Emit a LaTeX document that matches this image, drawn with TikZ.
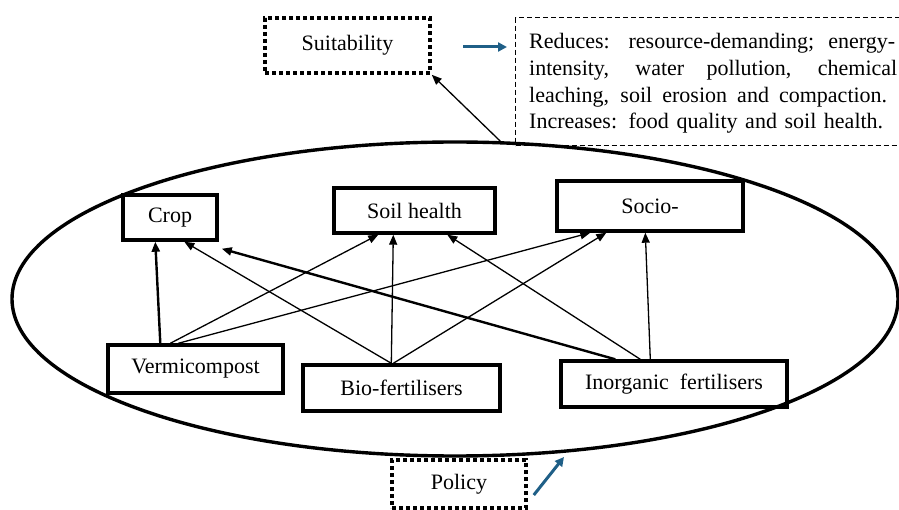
\documentclass[tikz,border=0pt]{standalone}
\usepackage{fontspec}
\setmainfont{Liberation Serif}
\usetikzlibrary{shapes.geometric,arrows.meta}
\definecolor{arrowblue}{RGB}{31,95,135}
\begin{document}
\begin{tikzpicture}[x=1pt,y=-1pt,
  labelfont/.style={font=\fontsize{22}{26}\selectfont},
  box/.style={draw,line width=3.4pt,inner sep=0pt,labelfont},
  dotbox/.style={draw,line width=3.6pt,dash pattern=on 3.6pt off 3.4pt,inner sep=0pt,labelfont},
  conthin/.style={line width=1.3pt,-{Triangle[length=10pt,width=8pt]}},
  conthick/.style={line width=2.4pt,-{Triangle[length=10pt,width=8pt]}},
  bluearrow/.style={arrowblue,line width=3pt,-{Triangle[length=9pt,width=9pt]}},
  txtline/.style={anchor=base west,inner sep=0pt,labelfont}]
\useasboundingbox (0,0) rectangle (899,510);
\clip (0,0) rectangle (899,510);
% ellipse
\node[draw,ellipse,line width=3.4pt,minimum width=886pt,minimum height=314pt,inner sep=0pt] (ell) at (455,299) {};
% boxes
\node[box,minimum width=94pt,minimum height=45pt] (crop) at (170,217.5) {Crop};
\node[box,minimum width=161pt,minimum height=45pt] (soil) at (414.5,210.5) {Soil health};
\node[box,minimum width=186pt,minimum height=50pt] (socio) at (650,206) {Socio-};
\node[box,minimum width=175pt,minimum height=48pt] (verm) at (195.5,369) {Vermicompost};
\node[box,minimum width=197pt,minimum height=46pt] (bio) at (401.5,388) {Bio-fertilisers};
\node[box,minimum width=226pt,minimum height=46pt] (inorg) at (674,384) {Inorganic\ \ fertilisers};
\node[dotbox,minimum width=165pt,minimum height=55pt] (suit) at (347.5,45.5) {Suitability};
\node[dotbox,minimum width=134pt,minimum height=48pt] (policy) at (459,484) {Policy};
% text box
\node[draw,dash pattern=on 5pt off 3pt,line width=1.2pt,minimum width=392pt,minimum height=128pt,anchor=north west,inner sep=0pt] (txt) at (515,17) {};
\node[txtline] (l1) at (529,49) {\makebox[366pt][s]{Reduces: resource-demanding; energy-}};
\node[txtline] (l2) at (529,76) {\makebox[368pt][s]{intensity, water pollution, chemical}};
\node[txtline] (l3) at (529,103) {\makebox[358pt][s]{leaching, soil erosion and compaction.}};
\node[txtline] (l4) at (529,129) {\makebox[354pt][s]{Increases: food quality and soil health.}};
% blue arrows
\coordinate (ba1) at (463,47);
\coordinate (ba2) at (507,47);
\draw[bluearrow] (ba1) -- (ba2);
\coordinate (pt) at (564,457);
\draw[bluearrow] ([xshift=6pt,yshift=-11pt]policy.east) -- (pt);
% ellipse to suitability
\draw[conthin] (ell.74) -- (suit.south east);
% connectors
\draw[conthick] ([xshift=54pt]verm.north west) -- ([xshift=34pt]crop.south west);
\draw[conthin] ([xshift=64pt]verm.north west) -- ([xshift=46pt]soil.south west);
\draw[conthin] ([xshift=72pt]verm.north west) -- ([xshift=35pt]socio.south west);
\draw[conthin] ([xshift=90pt]bio.north west) -- ([xshift=63pt]crop.south west);
\draw[conthin] ([xshift=90pt]bio.north west) -- ([xshift=61pt]soil.south west);
\draw[conthin] ([xshift=92pt]bio.north west) -- ([xshift=51pt]socio.south west);
\draw[conthick] ([xshift=56pt]inorg.north west) -- ([xshift=3pt,yshift=-7pt]crop.south east);
\draw[conthin] ([xshift=81pt]inorg.north west) -- ([xshift=115pt]soil.south west);
\draw[conthin] ([xshift=91pt]inorg.north west) -- ([xshift=90pt]socio.south west);
\end{tikzpicture}
\end{document}
